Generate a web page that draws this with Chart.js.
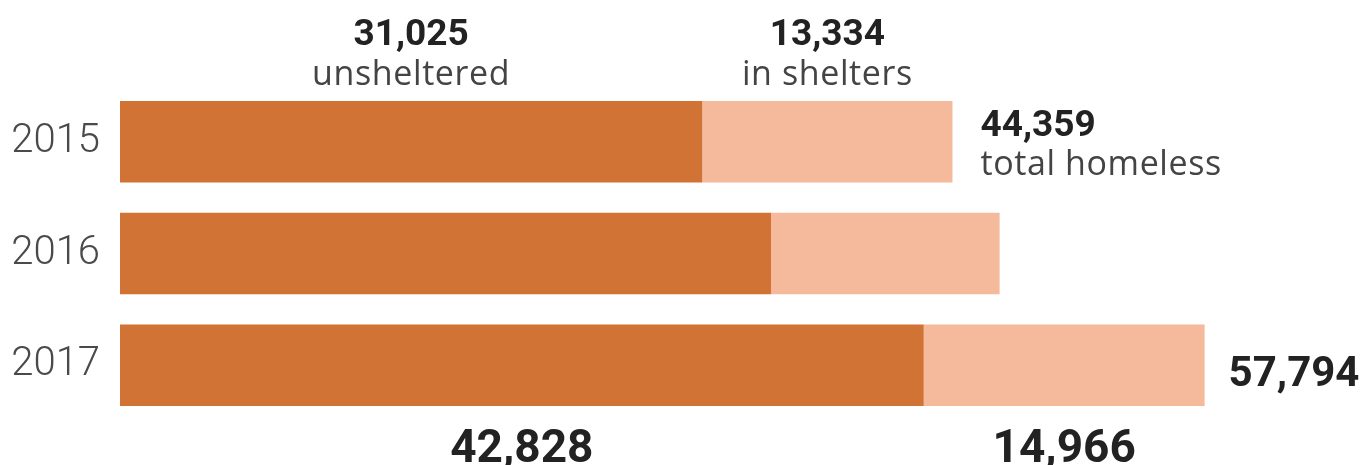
<!DOCTYPE html>
<html>
<head>
<meta charset="utf-8">
<script src="https://cdn.jsdelivr.net/npm/chart.js@4"></script>
<style>
html,body{margin:0;padding:0;background:#fff;}
#wrap{width:1361px;height:465px;position:relative;}
</style>
</head>
<body>
<div id="wrap"><canvas id="c" width="1361" height="465"></canvas></div>
<script>
const years = ['2015', '2016', '2017'];
const unsheltered = [31025, 34690, 42828];
const inShelters = [13334, 12180, 14966];
const totals = [44359, 46870, 57794];

const darkColor = '#D07334';
const lightColor = '#F5B99B';
const FONT = 'Roboto, "Liberation Sans", sans-serif';
const FONT2 = '"Open Sans", Roboto, sans-serif';

function fmt(n){ return n.toLocaleString('en-US'); }

const annotations = {
  id: 'annotations',
  afterDatasetsDraw(chart){
    const ctx = chart.ctx;
    const m0 = chart.getDatasetMeta(0).data;
    const m1 = chart.getDatasetMeta(1).data;
    ctx.save();
    ctx.textAlign = 'center';
    ctx.textBaseline = 'alphabetic';
    // 2015 top labels
    const u15 = (m0[0].base + m0[0].x) / 2;
    const s15 = (m1[0].base + m1[0].x) / 2;
    ctx.fillStyle = '#222';
    ctx.font = 'bold 37px ' + FONT;
    ctx.fillText(fmt(unsheltered[0]), u15, 45);
    ctx.fillText(fmt(inShelters[0]), s15, 45);
    ctx.fillStyle = '#444';
    ctx.font = '34px ' + FONT2;
    ctx.letterSpacing = '0.6px';
    ctx.fillText('unsheltered', u15, 85);
    ctx.fillText('in shelters', s15, 85);
    // 2015 total
    ctx.textAlign = 'left';
    ctx.fillText('total homeless', m1[0].x + 28, 175);
    ctx.letterSpacing = '0px';
    ctx.fillStyle = '#222';
    ctx.font = 'bold 37px ' + FONT;
    ctx.fillText(fmt(totals[0]), m1[0].x + 28, 136);
    // 2017 total
    ctx.font = 'bold 42px ' + FONT;
    ctx.fillText(fmt(totals[2]), m1[2].x + 24, 386);
    // 2017 bottom labels
    ctx.textAlign = 'center';
    ctx.font = 'bold 46px ' + FONT;
    ctx.fillText(fmt(unsheltered[2]), (m0[2].base + m0[2].x) / 2, 462);
    ctx.fillText(fmt(inShelters[2]), (m1[2].base + m1[2].x) / 2, 462);
    ctx.restore();
  }
};

new Chart(document.getElementById('c'), {
  type: 'bar',
  data: {
    labels: years,
    datasets: [
      { label: 'unsheltered', data: unsheltered, backgroundColor: darkColor, borderWidth: 0 },
      { label: 'in shelters', data: inShelters, backgroundColor: lightColor, borderWidth: 0 }
    ]
  },
  options: {
    indexAxis: 'y',
    responsive: false,
    animation: false,
    devicePixelRatio: 1,
    layout: { padding: { left: 0, right: 115, top: 86, bottom: 42 } },
    datasets: { bar: { categoryPercentage: 1, barPercentage: 0.73 } },
    plugins: { legend: { display: false }, tooltip: { enabled: false } },
    scales: {
      x: { stacked: true, min: 0, max: 60000, display: false },
      y: {
        stacked: true,
        grid: { display: false, drawTicks: false },
        border: { display: false },
        ticks: { color: '#4a4a4a', font: { family: FONT, size: 40, weight: '300' }, padding: 20 },
        afterFit(scale){ scale.width = 120; }
      }
    }
  },
  plugins: [annotations]
});
</script>
</body>
</html>
